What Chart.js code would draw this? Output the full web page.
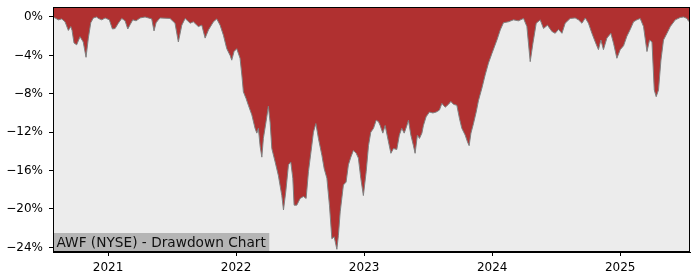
<!DOCTYPE html>
<html>
<head>
<meta charset="utf-8">
<script src="https://cdn.jsdelivr.net/npm/chart.js@4.4.1/dist/chart.umd.min.js"></script>
<style>
    body { margin: 0; background: #ffffff; }
    #wrap { width: 700px; height: 280px; position: relative; }
</style>
</head>
<body>
<div id="wrap"><canvas id="myChart"></canvas></div>
<script>
// time in decimal years, drawdown in percent
const dates = [
    2020.570, 2020.586, 2020.612, 2020.638, 2020.664, 2020.690, 2020.709, 2020.719, 2020.734, 2020.755,
    2020.781, 2020.806, 2020.828, 2020.846, 2020.865, 2020.885, 2020.911, 2020.924, 2020.951, 2020.977,
    2021.010, 2021.034, 2021.055, 2021.080, 2021.107, 2021.133, 2021.154, 2021.172, 2021.193, 2021.219,
    2021.250, 2021.289, 2021.315, 2021.341, 2021.359, 2021.375, 2021.393, 2021.406, 2021.484, 2021.523,
    2021.549, 2021.576, 2021.602, 2021.641, 2021.666, 2021.705, 2021.732, 2021.758, 2021.784, 2021.823,
    2021.849, 2021.875, 2021.901, 2021.927, 2021.953, 2021.966, 2021.984, 2022.005, 2022.031, 2022.045,
    2022.057, 2022.078, 2022.096, 2022.123, 2022.148, 2022.162, 2022.174, 2022.188, 2022.201, 2022.213,
    2022.234, 2022.252, 2022.266, 2022.279, 2022.305, 2022.330, 2022.357, 2022.370, 2022.388, 2022.409,
    2022.427, 2022.443, 2022.453, 2022.474, 2022.500, 2022.526, 2022.547, 2022.565, 2022.591, 2022.604,
    2022.623, 2022.643, 2022.670, 2022.688, 2022.709, 2022.729, 2022.748, 2022.766, 2022.787, 2022.799,
    2022.813, 2022.838, 2022.859, 2022.877, 2022.896, 2022.916, 2022.938, 2022.955, 2022.974, 2022.994,
    2023.016, 2023.034, 2023.052, 2023.073, 2023.094, 2023.112, 2023.125, 2023.146, 2023.164, 2023.190,
    2023.209, 2023.229, 2023.255, 2023.275, 2023.294, 2023.313, 2023.334, 2023.346, 2023.365, 2023.385,
    2023.398, 2023.416, 2023.432, 2023.451, 2023.463, 2023.484, 2023.510, 2023.537, 2023.563, 2023.588,
    2023.607, 2023.633, 2023.659, 2023.677, 2023.698, 2023.724, 2023.745, 2023.763, 2023.789, 2023.807,
    2023.820, 2023.834, 2023.854, 2023.875, 2023.893, 2023.920, 2023.945, 2023.971, 2023.998, 2024.037,
    2024.063, 2024.088, 2024.127, 2024.166, 2024.205, 2024.245, 2024.271, 2024.297, 2024.318, 2024.344,
    2024.375, 2024.401, 2024.432, 2024.466, 2024.492, 2024.518, 2024.545, 2024.570, 2024.609, 2024.648,
    2024.674, 2024.701, 2024.727, 2024.752, 2024.779, 2024.805, 2024.830, 2024.849, 2024.869, 2024.896,
    2024.927, 2024.948, 2024.974, 2025.000, 2025.026, 2025.052, 2025.078, 2025.104, 2025.130, 2025.156,
    2025.182, 2025.209, 2025.229, 2025.248, 2025.266, 2025.281, 2025.299, 2025.318, 2025.338, 2025.365,
    2025.391, 2025.430, 2025.469, 2025.495, 2025.521, 2025.534, 2025.547
];
const drawdown = [
    0.0, -0.1, -0.3, -0.2, -0.5, -1.4, -1.0, -1.4, -2.7, -2.9,
    -2.05, -2.6, -4.2, -2.2, -0.6, -0.1, 0.0, -0.15, -0.3, -0.1,
    -0.3, -1.25, -1.2, -0.65, -0.15, -0.4, -1.25, -0.8, -0.3, -0.4,
    -0.1, 0.0, -0.1, -0.2, -1.45, -0.6, -0.3, -0.1, -0.15, -0.65,
    -2.6, -0.85, -0.15, -0.65, -0.5, -1.0, -0.85, -2.2, -1.35, -0.5,
    -0.2, -0.85, -1.9, -3.3, -4.0, -4.5, -3.6, -3.3, -4.3, -6.05,
    -7.8, -8.5, -9.2, -10.2, -11.6, -12.1, -11.6, -13.5, -14.6, -12.65,
    -10.9, -9.3, -11.0, -13.7, -15.1, -16.5, -18.6, -20.1, -18.2, -15.4,
    -15.1, -16.8, -19.6, -19.6, -18.9, -18.7, -18.9, -16.1, -13.4, -12.0,
    -11.1, -12.65, -14.4, -15.8, -16.8, -19.6, -23.1, -22.9, -24.2, -22.75,
    -20.3, -17.5, -17.2, -15.4, -14.6, -13.9, -14.2, -14.7, -16.8, -18.6,
    -16.1, -13.4, -12.0, -11.6, -10.75, -10.9, -11.3, -12.1, -11.3, -13.0,
    -14.2, -13.7, -13.8, -12.3, -11.6, -12.1, -11.3, -10.75, -12.3, -13.4,
    -14.2, -12.3, -12.65, -12.1, -11.3, -10.4, -9.9, -10.0, -9.9, -9.7,
    -9.0, -9.4, -9.1, -8.8, -9.1, -9.2, -10.6, -11.6, -12.3, -13.0,
    -13.4, -12.1, -11.1, -9.9, -8.7, -7.4, -6.05, -4.8, -3.8, -2.4,
    -1.35, -0.6, -0.5, -0.3, -0.4, -0.15, -1.0, -4.65, -2.75, -0.65,
    -0.3, -1.2, -0.85, -1.5, -1.7, -1.3, -1.7, -0.65, -0.15, -0.1,
    -0.3, -0.65, -0.1, -0.65, -1.7, -2.6, -3.4, -2.4, -3.4, -2.2,
    -1.7, -2.75, -4.3, -3.4, -3.0, -2.0, -1.3, -0.5, -0.3, -0.15,
    -1.0, -3.6, -2.4, -2.6, -7.6, -8.3, -7.6, -4.5, -2.4, -1.7,
    -1.0, -0.3, -0.05, 0.0, -0.15, -0.45, 0.0
];
const yTicks = [0, -4, -8, -12, -16, -20, -24];
const xTicks = [2021, 2022, 2023, 2024, 2025];
const chartLabel = 'AWF (NYSE) - Drawdown Chart';

const points = dates.map((d, i) => ({ x: d, y: drawdown[i] }));

// grey plot background, closed frame and the label box in the lower left
const decor = {
    id: 'decor',
    beforeDraw(chart) {
        const { ctx, chartArea: a } = chart;
        ctx.save();
        ctx.fillStyle = '#ececec';
        ctx.fillRect(a.left, a.top, a.right - a.left, a.bottom - a.top);
        ctx.restore();
    },
    afterDraw(chart) {
        const { ctx, chartArea: a } = chart;
        ctx.save();
        ctx.font = '13.7px "DejaVu Sans"';
        const w = ctx.measureText(chartLabel).width;
        ctx.fillStyle = '#b5b5b5';
        ctx.fillRect(a.left, a.bottom - 19, w + 7, 19);
        ctx.fillStyle = '#111111';
        ctx.textBaseline = 'alphabetic';
        ctx.fillText(chartLabel, a.left + 3.5, a.bottom - 4.7);
        ctx.strokeStyle = '#000000';
        ctx.lineWidth = 1;
        ctx.strokeRect(Math.round(a.left) + 0.5, Math.round(a.top) + 0.5,
            Math.round(a.right - a.left) - 1, Math.round(a.bottom - a.top) - 1);
        ctx.restore();
    }
};

const ctx = document.getElementById('myChart');
new Chart(ctx, {
    type: 'line',
    data: {
        datasets: [{
            data: points,
            fill: 'end',
            backgroundColor: '#b03030',
            borderColor: '#808080',
            borderWidth: 1,
            pointRadius: 0,
            tension: 0
        }]
    },
    options: {
        responsive: true,
        maintainAspectRatio: false,
        animation: false,
        layout: { padding: { top: 7, right: 10, left: 0, bottom: 0 } },
        plugins: {
            legend: { display: false },
            tooltip: { enabled: false }
        },
        scales: {
            x: {
                type: 'linear',
                min: 2020.570,
                max: 2025.545,
                afterFit: s => {
                    s.height = 28;
                    s.paddingLeft = 0;
                    s.paddingRight = 0;
                },
                afterBuildTicks: s => { s.ticks = xTicks.map(v => ({ value: v })); },
                grid: { drawOnChartArea: false, tickLength: 4, color: '#000000' },
                border: { display: true, color: '#000000' },
                ticks: {
                    color: '#000000',
                    padding: 5,
                    maxRotation: 0,
                    font: { family: 'DejaVu Sans', size: 12 },
                    callback: v => String(v)
                }
            },
            y: {
                min: -24.48,
                max: 1.04,
                afterFit: s => {
                    s.width = 53;
                    s.paddingTop = 0;
                    s.paddingBottom = 0;
                },
                afterBuildTicks: s => { s.ticks = yTicks.map(v => ({ value: v })); },
                grid: { drawOnChartArea: false, tickLength: 4, color: '#000000' },
                border: { display: true, color: '#000000' },
                ticks: {
                    color: '#000000',
                    padding: 6,
                    font: { family: 'DejaVu Sans', size: 12 },
                    callback: v => (v < 0 ? '\u2212' : '') + Math.abs(v) + '%'
                }
            }
        }
    },
    plugins: [decor]
});
</script>
</body>
</html>
